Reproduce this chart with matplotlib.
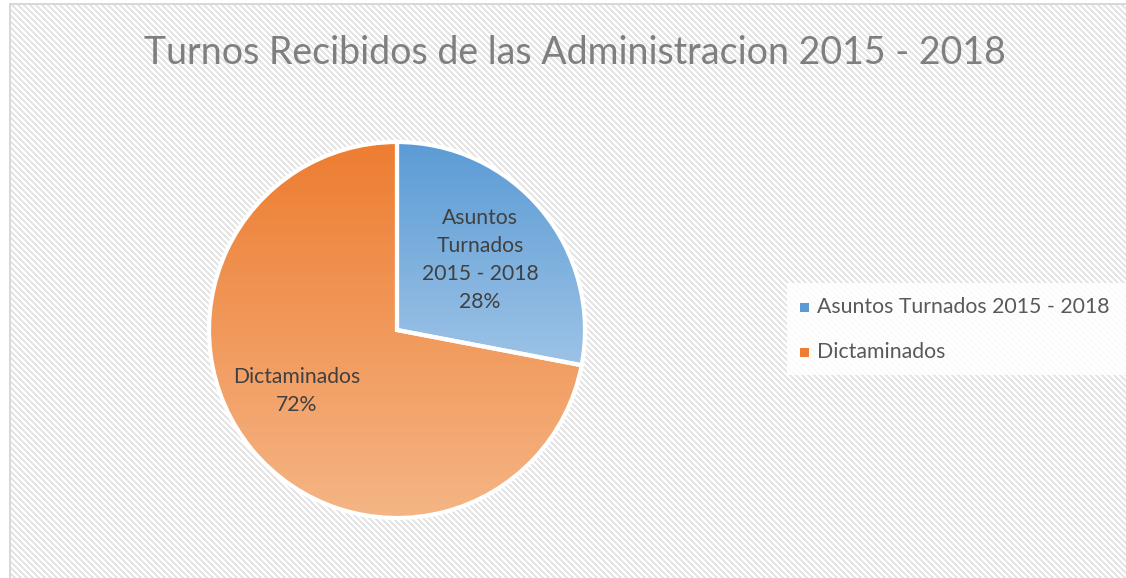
import numpy as np
import matplotlib.pyplot as plt
from matplotlib.colors import to_rgb

plt.rcParams['font.family'] = ['Lato', 'DejaVu Sans']

# data
labels = ['Asuntos Turnados 2015 - 2018', 'Dictaminados']
slice_text = ['Asuntos\nTurnados\n2015 - 2018\n28%', 'Dictaminados\n72%']
values = [28, 72]
title = 'Turnos Recibidos de las Administracion 2015 - 2018'

top_colors = ['#5B9BD5', '#ED7D31']
bottom_colors = ['#9DC3E6', '#F5B585']

W, H = 1126, 578
fig = plt.figure(figsize=(W / 100, H / 100), dpi=100)
ax = fig.add_axes([0, 0, 1, 1])

# striped background, like the office chart area pattern
yy, xx = np.mgrid[0:H, 0:W]
bg = np.ones((H, W, 3))
stripe = ((xx - yy) % 6) < 3
bg[stripe] = 0.9
bg[:, :9] = 1.0
bg[:3, :] = 1.0
bg[3:5, 9:] = 0.85
bg[3:, 9:11] = 0.85
ax.imshow(bg, extent=(0, W, 0, H), origin='upper', interpolation='nearest', zorder=0)

# white legend box
ax.add_patch(plt.Rectangle((787, H - 375), W - 787, 92, facecolor='white',
                           edgecolor='none', alpha=0.85, zorder=1))

cx, cy, r = 397, H - 330, 188
wedges, _ = ax.pie(values, startangle=90, counterclock=False, center=(cx, cy),
                   radius=r, wedgeprops=dict(edgecolor='white', linewidth=3),
                   frame=True)
ax.set_xlim(0, W)
ax.set_ylim(0, H)
ax.set_aspect('equal')
ax.axis('off')

# gradient fill per slice
for w, c0, c1 in zip(wedges, top_colors, bottom_colors):
    w.set_facecolor('none')
    w.set_zorder(3)
    ext = w.get_path().get_extents(w.get_transform())
    inv = ax.transData.inverted()
    (x0, y0), (x1, y1) = inv.transform([[ext.x0, ext.y0], [ext.x1, ext.y1]])
    t = np.linspace(0, 1, 256)[:, None]
    a, b = np.array(to_rgb(c0)), np.array(to_rgb(c1))
    grad = (a * (1 - t) + b * t)[:, None, :]
    im = ax.imshow(grad, extent=(x0, x1, y0, y1), origin='upper', aspect='auto',
                   interpolation='bilinear', zorder=2)
    im.set_clip_path(w)

ax.text(480, H - 260, slice_text[0], ha='center', va='center', fontsize=15.2,
        color='#404040', linespacing=1.5, zorder=4)
ax.text(297, H - 391, slice_text[1], ha='center', va='center', fontsize=15.2,
        color='#404040', linespacing=1.5, zorder=4)

ax.text(575, H - 53, title, ha='center', va='center', fontsize=27, color='#7f7f7f', zorder=4)

# legend
for i, (lab, col) in enumerate(zip(labels, top_colors)):
    y = H - 307 - i * 45
    ax.add_patch(plt.Rectangle((800, y - 4.5), 9, 9, facecolor=col, edgecolor='none', zorder=4))
    ax.text(817, y, lab, ha='left', va='center', fontsize=15.3, color='#595959', zorder=4)

fig.savefig('out.png', dpi=100)
